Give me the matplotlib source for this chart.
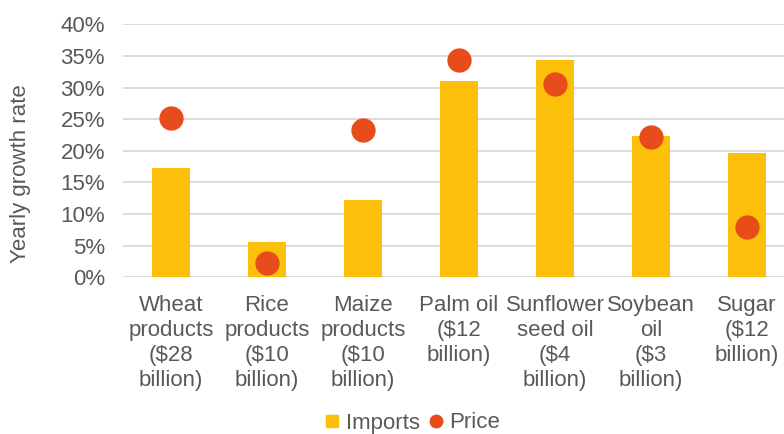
import matplotlib
matplotlib.use("Agg")
import matplotlib.pyplot as plt
from matplotlib.lines import Line2D
import numpy as np

plt.rcParams['font.family'] = ['Liberation Sans', 'DejaVu Sans']

categories = ["Wheat\nproducts\n($28\nbillion)", "Rice\nproducts\n($10\nbillion)",
              "Maize\nproducts\n($10\nbillion)", "Palm oil\n($12\nbillion)",
              "Sunflower\nseed oil\n($4\nbillion)", "Soybean\noil\n($3\nbillion)",
              "Sugar\n($12\nbillion)"]
imports = [17.3, 5.6, 12.2, 31.0, 34.4, 22.4, 19.6]
price = [25.2, 2.3, 23.3, 34.3, 30.5, 22.2, 7.9]
yticks = [0, 5, 10, 15, 20, 25, 30, 35, 40]

bar_color = '#FDC00A'
dot_color = '#E64D1A'
text_color = '#595959'
fs = 16

fig = plt.figure(figsize=(7.84, 4.34), dpi=100)
ax = fig.add_axes([123/784, 1-277.3/434, 672/784, (277.3-24.3)/434])
x = np.arange(len(categories))
ax.bar(x, imports, width=0.4, color=bar_color, zorder=2)
ax.plot(x, price, 'o', color=dot_color, markersize=16.5, zorder=3, linestyle='none')

ax.set_xlim(-0.5, len(categories) - 0.5)
ax.set_ylim(0, 40)
ax.set_yticks(yticks)
ax.set_yticklabels([f"{v}%" for v in yticks])
ax.yaxis.grid(True, color='#D9D9D9', linewidth=1.3, zorder=0)
ax.set_axisbelow(True)
for s in ax.spines.values():
    s.set_visible(False)
ax.tick_params(axis='both', length=0, colors=text_color, labelsize=fs)
ax.tick_params(axis='y', pad=13)
ax.tick_params(axis='x', pad=13)
ax.set_xticks(x)
ax.set_xticklabels(categories, linespacing=1.25)

fig.text(21/784, 1-174/434, "Yearly growth rate", rotation=90, color=text_color,
         fontsize=fs, ha='center', va='center')

handles = [Line2D([], [], marker='s', color=bar_color, linestyle='none', markersize=8),
           Line2D([], [], marker='o', color=dot_color, linestyle='none', markersize=9)]
leg = fig.legend(handles, ['Imports', 'Price'], loc='center',
                 bbox_to_anchor=(413/784, 1-423/434), ncol=2, frameon=False,
                 fontsize=fs, handlelength=0.6, handletextpad=0.3, columnspacing=0.45,
                 borderpad=0)
for t in leg.get_texts():
    t.set_color(text_color)

fig.savefig("out.png", dpi=100)
